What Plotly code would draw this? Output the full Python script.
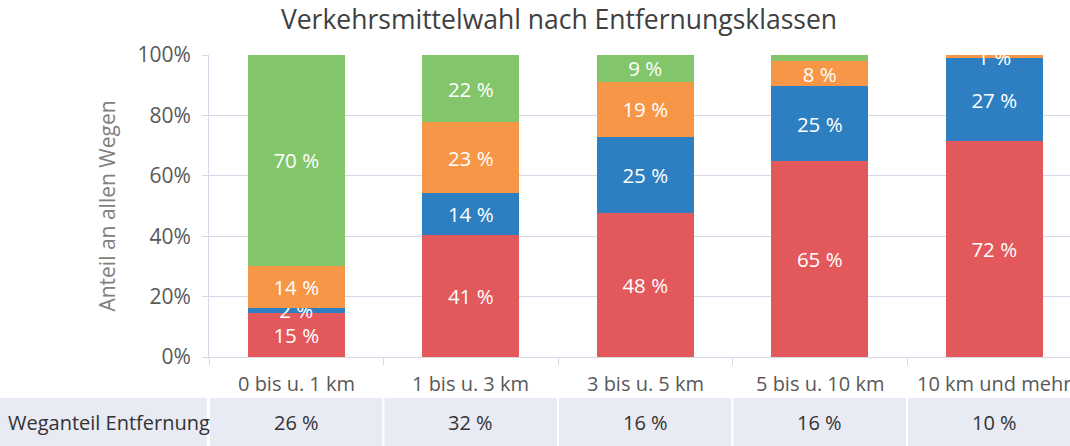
import plotly.graph_objects as go

categories = ["0 bis u. 1 km", "1 bis u. 3 km", "3 bis u. 5 km", "5 bis u. 10 km", "10 km und mehr"]
red_vals = [14.6, 40.4, 47.7, 64.9, 71.5]
blue_vals = [1.7, 13.9, 25.2, 24.8, 27.5]
orange_vals = [13.9, 23.5, 18.2, 8.3, 1.0]
green_vals = [69.8, 22.2, 8.9, 2.0, 0.0]
red_labels = ["15 %", "41 %", "48 %", "65 %", "72 %"]
blue_labels = ["2 %", "14 %", "25 %", "25 %", "27 %"]
orange_labels = ["14 %", "23 %", "19 %", "8 %", "1 %"]
green_labels = ["70 %", "22 %", "9 %", "", ""]
y_ticks = [0, 20, 40, 60, 80, 100]
y_tick_labels = ["0%", "20%", "40%", "60%", "80%", "100%"]
row_label = "Weganteil Entfernung"
share_labels = ["26 %", "32 %", "16 %", "16 %", "10 %"]

FONT = "Open Sans, Liberation Sans, Arial, sans-serif"
W, H = 1070, 446
L, R, T, B = 209, 0, 55, 89
plot_w = W - L - R
plot_h = H - T - B

fig = go.Figure()
series = [
    (red_vals, red_labels, "#E3585B"),
    (blue_vals, blue_labels, "#2E7FC2"),
    (orange_vals, orange_labels, "#F79646"),
    (green_vals, green_labels, "#82C56A"),
]
xs = list(range(len(categories)))
for vals, labels, color in series:
    fig.add_trace(go.Bar(
        x=xs, y=vals, text=labels, width=0.556,
        marker=dict(color=color, line=dict(width=0)),
        textposition="inside", insidetextanchor="middle",
        constraintext="none",
        textfont=dict(color="white", size=20.5, family=FONT),
        cliponaxis=True, showlegend=False, hoverinfo="skip",
    ))

# category labels (as annotations so the clipped last one still shows)
cat_y = -(383 - (H - B)) / plot_h
for i, c in enumerate(categories):
    fig.add_annotation(xref="x", yref="paper", x=i, y=cat_y, text=c, showarrow=False,
                       xanchor="center", yanchor="middle",
                       font=dict(size=20, color="#595959", family=FONT))

# table row below chart
row_top = -(398 - (H - B)) / plot_h
row_mid = (row_top + (-(H - (H - B)) / plot_h)) / 2
row_bot = -(H - (H - B)) / plot_h - 0.05
cell_bg = "#E8EAF4"
fig.add_shape(type="rect", xref="paper", yref="paper",
              x0=-L / plot_w, x1=-2 / plot_w, y0=row_bot, y1=row_top,
              fillcolor=cell_bg, line=dict(width=0), layer="below")
fig.add_annotation(xref="paper", yref="paper", x=-(L - 6) / plot_w, y=row_mid,
                   text=row_label, showarrow=False, xanchor="left", yanchor="middle",
                   font=dict(size=20, color="#333333", family=FONT))
for i, s in enumerate(share_labels):
    fig.add_shape(type="rect", xref="x", yref="paper",
                  x0=i - 0.5 + 0.006, x1=i + 0.5 - 0.006, y0=row_bot, y1=row_top,
                  fillcolor=cell_bg, line=dict(width=0), layer="below")
    fig.add_annotation(xref="x", yref="paper", x=i, y=row_mid,
                       text=s, showarrow=False, xanchor="center", yanchor="middle",
                       font=dict(size=20, color="#333333", family=FONT))

fig.update_layout(
    barmode="stack",
    width=W, height=H,
    margin=dict(l=L, r=R, t=T, b=B),
    paper_bgcolor="white", plot_bgcolor="white",
    title=dict(text="Verkehrsmittelwahl nach Entfernungsklassen",
               x=559 / W, xanchor="center", y=1 - 20 / H, yanchor="middle",
               font=dict(size=26.5, color="#404040", family=FONT)),
    font=dict(family=FONT),
)
fig.update_xaxes(
    range=[-0.5, -0.5 + plot_w / 174.5],
    tickmode="array", tickvals=xs, ticktext=categories, showticklabels=False,
    showgrid=False, showline=True, linecolor="#D5D8E8", linewidth=1,
    ticks="", zeroline=False, fixedrange=True,
)
fig.update_xaxes(minor=dict(tickvals=[i - 0.5 for i in range(len(categories) + 1)],
                            ticks="outside", ticklen=7, tickcolor="#D5D8E8", showgrid=False))
fig.update_yaxes(
    range=[0, 100], tickmode="array", tickvals=y_ticks, ticktext=y_tick_labels,
    tickfont=dict(size=21, color="#595959", family=FONT),
    showgrid=True, gridcolor="#D5D8E8", gridwidth=1,
    showline=True, linecolor="#D5D8E8", linewidth=1,
    ticks="outside", ticklen=6, tickcolor="#D5D8E8",
    zeroline=False, ticklabelstandoff=7,
    title=dict(text="Anteil an allen Wegen", font=dict(size=21, color="#808080", family=FONT), standoff=16),
)

fig.write_html("out.html")
